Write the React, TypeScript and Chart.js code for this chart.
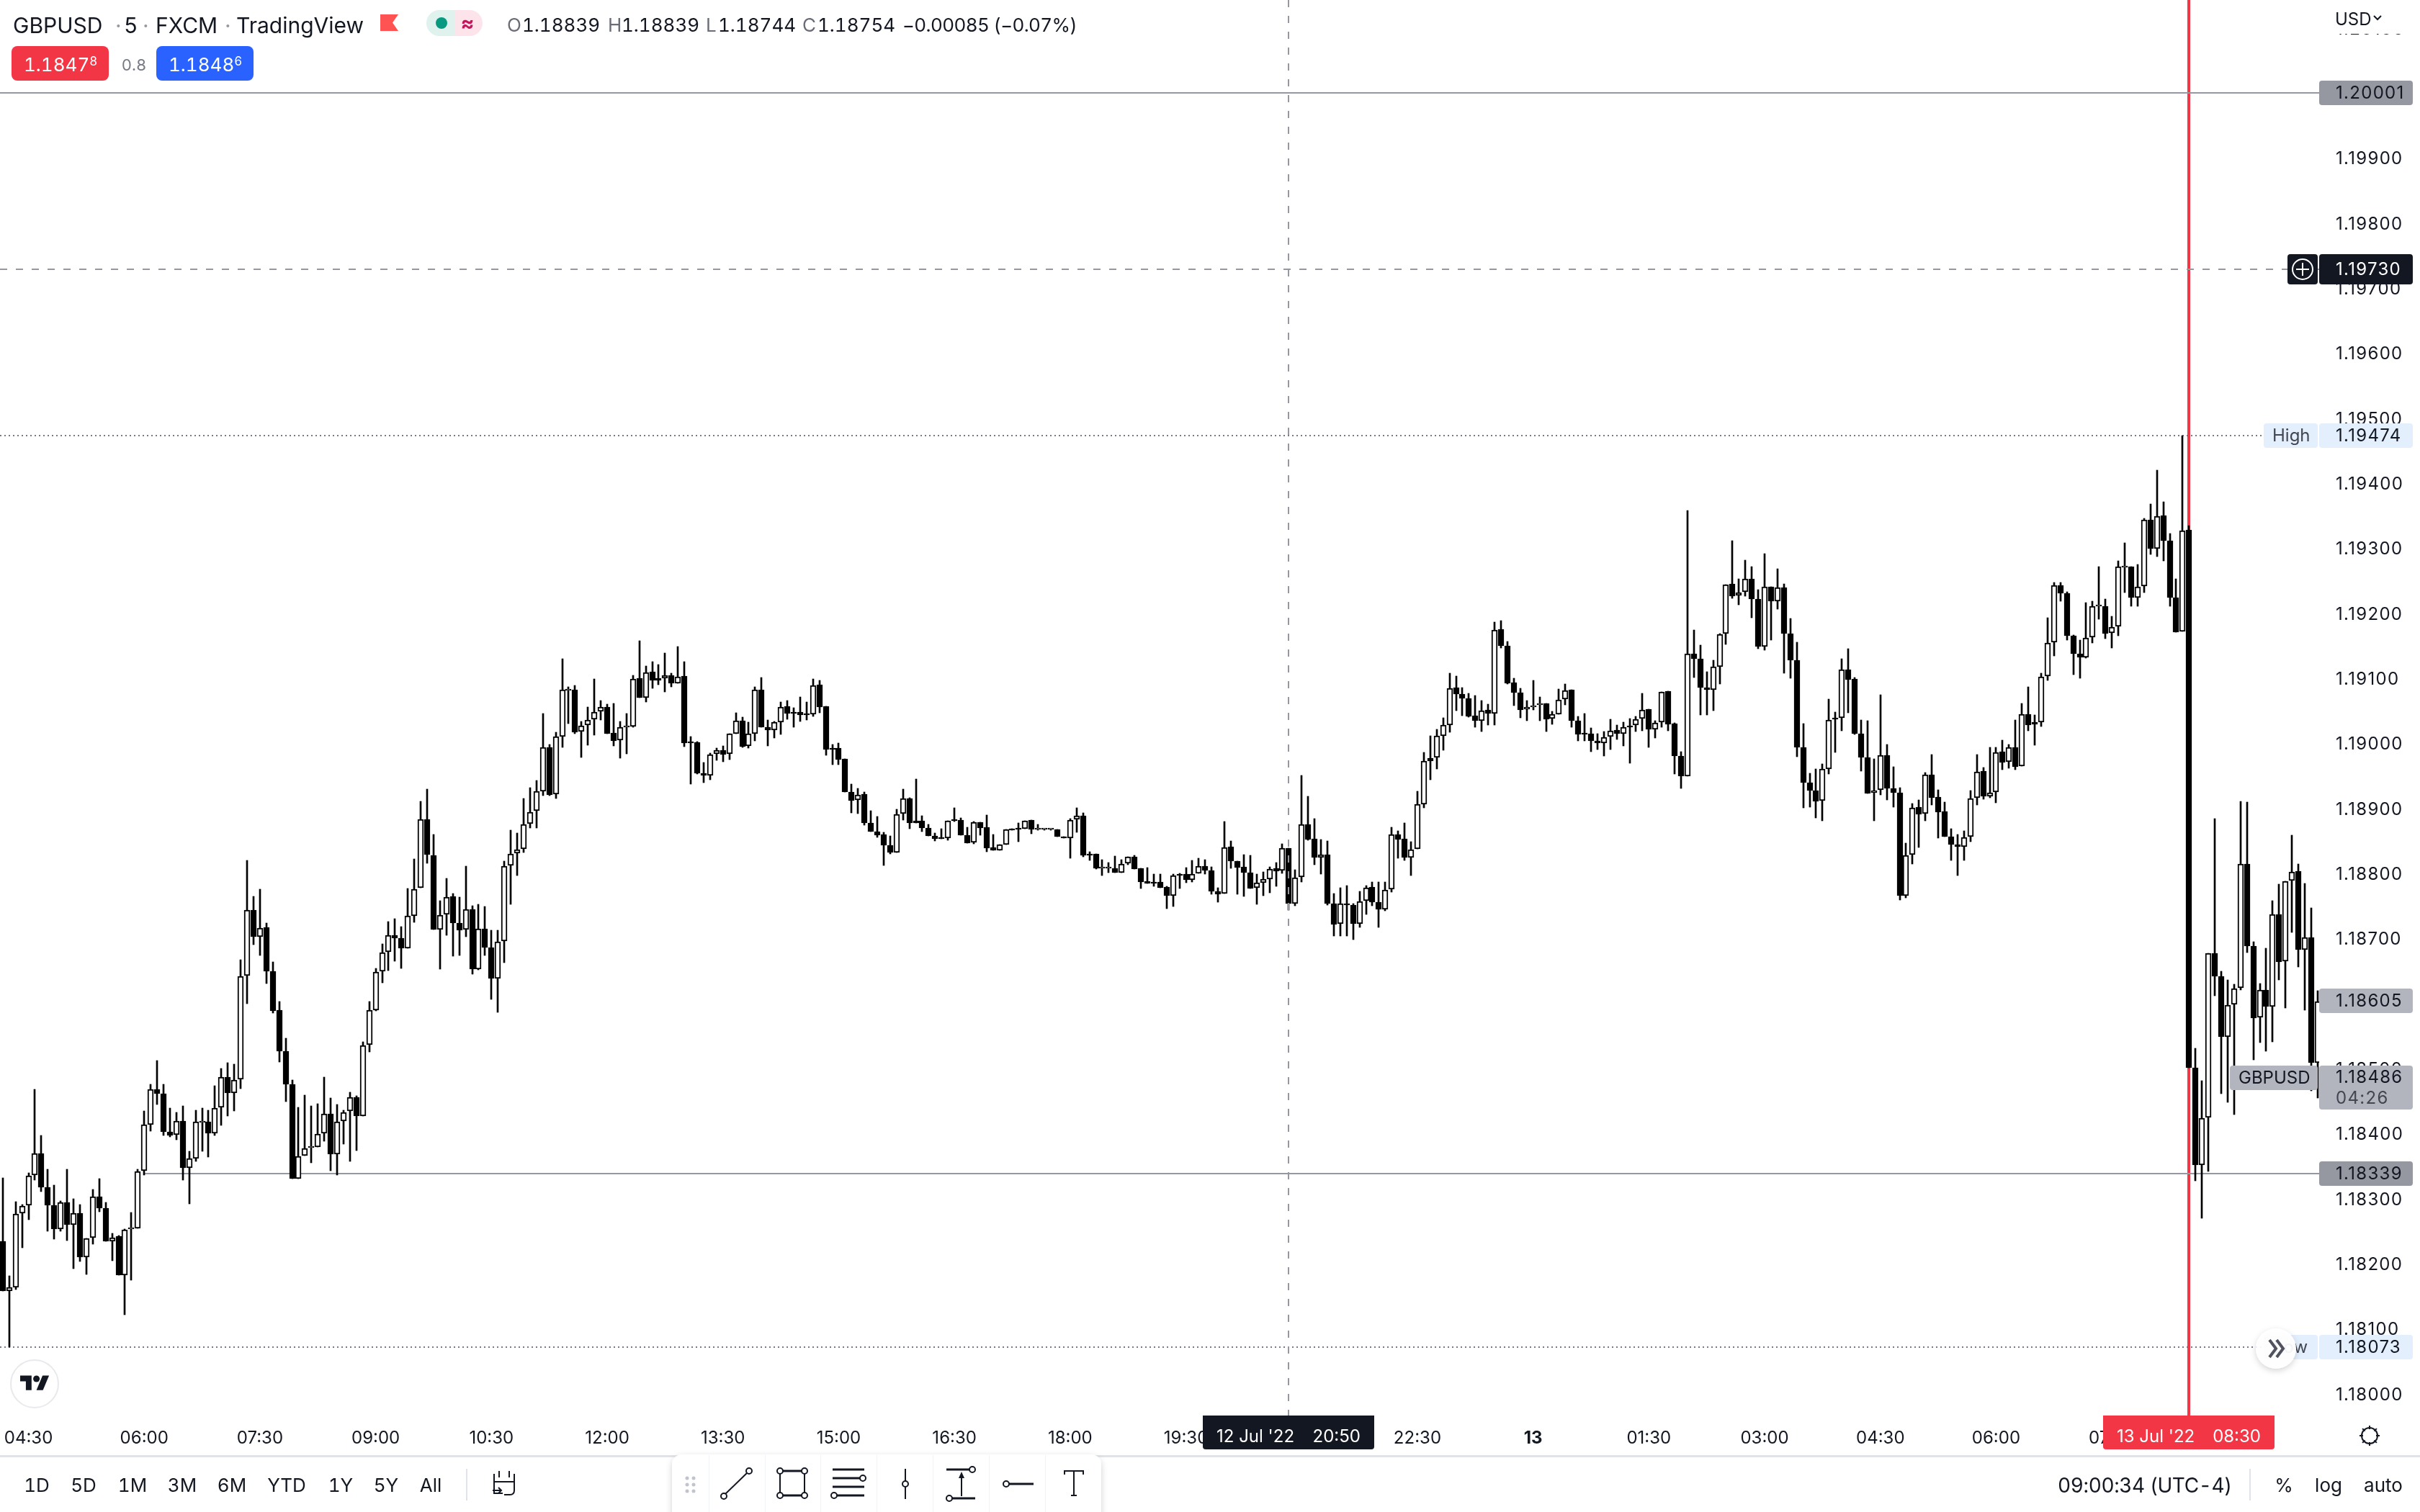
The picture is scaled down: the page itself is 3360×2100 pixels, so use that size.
import React, { useEffect, useRef } from "react";
import { Chart, registerables } from "chart.js";

Chart.register(...registerables);

// Candle values, in units of 0.00001
const highs = [
118333,118182,118296,118292,118340,118469,118398,118346,118322,118297,
118346,118301,118292,118240,118315,118331,118295,118247,118244,118254,
118279,118346,118435,118477,118513,118477,118440,118433,118443,118374,
118437,118440,118437,118474,118501,118510,118507,118668,118821,118765,
118776,118724,118665,118604,118547,118483,118441,118460,118443,118447,
118487,118455,118445,118437,118464,118459,118542,118604,118655,118692,
118727,118731,118719,118778,118823,118912,118930,118861,118759,118793,
118770,118764,118812,118751,118753,118750,118713,118713,118820,118867,
118863,118916,118932,118944,119046,118999,119018,119131,119088,119090,
119034,119057,119100,119066,119061,119062,119034,119047,119105,119158,
119120,119126,119122,119140,119109,119149,119126,119011,119003,118971,
118986,118993,118997,119015,119048,119041,119033,119088,119102,119037,
119034,119064,119067,119055,119072,119064,119100,119097,119058,118999,
119001,118977,118938,118931,118926,118897,118888,118864,118858,118899,
118930,118917,118946,118889,118876,118863,118869,118882,118902,118886,
118872,118880,118879,118890,118861,118845,118868,118869,118878,118882,
118883,118876,118869,118869,118868,118857,118885,118901,118894,118834,
118831,118822,118817,118827,118822,118826,118828,118809,118810,118800,
118800,118781,118800,118801,118810,118821,118824,118822,118811,118779,
118881,118851,118820,118830,118829,118800,118803,118811,118817,118846,
118839,118806,118951,118919,118885,118853,118851,118770,118779,118782,
118754,118773,118782,118788,118788,118787,118872,118866,118878,118849,
118927,118987,119012,119022,119040,119108,119104,119086,119077,119074,
119067,119061,119187,119189,119157,119101,119085,119067,119097,119072,
119062,119050,119084,119092,119083,119042,119046,119024,119016,119019,
119038,119029,119033,119039,119042,119078,119053,119035,119080,119081,
119032,118988,119359,119175,119152,119111,119128,119169,119245,119312,
119254,119282,119272,119237,119292,119241,119269,119246,119193,119156,
119031,118955,118961,118969,119069,119049,119131,119146,119102,119037,
119035,118977,119075,118999,118965,118933,118847,118908,118914,118956,
118984,118929,118910,118869,118861,118866,118928,118984,118963,118995,
118994,119006,118999,119037,119062,119088,119044,119108,119194,119248,
119248,119234,119167,119160,119217,119219,119272,119222,119196,119281,
119309,119272,119276,119347,119369,119421,119372,119323,119253,119474,
119335,118532,118482,118678,118885,118650,118637,118630,118912,118910,
118696,118632,118686,118759,118784,118789,118859,118815,118785,118748,
118620];

const lows = [
118159,118073,118161,118225,118268,118329,118312,118251,118238,118251,
118236,118193,118204,118184,118231,118281,118235,118205,118183,118122,
118175,118255,118337,118405,118445,118398,118396,118391,118329,118293,
118358,118374,118365,118398,118413,118428,118436,118470,118600,118691,
118675,118631,118586,118511,118450,118331,118332,118367,118356,118380,
118389,118344,118337,118385,118358,118375,118428,118526,118589,118633,
118651,118666,118655,118686,118726,118779,118816,118714,118654,118706,
118674,118675,118703,118646,118652,118675,118607,118587,118663,118753,
118797,118833,118870,118870,118920,118920,118916,118995,119031,119016,
118979,118998,119013,119037,119016,118997,118978,118985,119025,119071,
119064,119085,119091,119080,119088,119093,118996,118938,118954,118940,
118945,118975,118972,118976,119016,118995,118993,119005,119026,118997,
119009,119014,119038,119026,119034,119037,119042,119048,118982,118968,
118968,118926,118894,118893,118875,118865,118856,118813,118831,118833,
118883,118869,118878,118865,118858,118851,118854,118852,118880,118859,
118847,118846,118860,118834,118836,118836,118845,118867,118849,118869,
118862,118867,118867,118867,118857,118855,118824,118864,118826,118821,
118807,118797,118802,118802,118802,118814,118808,118778,118785,118781,
118779,118747,118750,118778,118786,118787,118801,118800,118769,118756,
118770,118809,118769,118765,118778,118753,118766,118771,118781,118801,
118744,118751,118788,118852,118814,118800,118752,118704,118705,118705,
118699,118718,118738,118751,118718,118743,118772,118824,118821,118798,
118838,118902,118945,118961,118990,119018,119051,119043,119041,119026,
119019,119029,119029,119147,119092,119059,119040,119036,119052,119036,
119019,119030,119045,119060,119025,119004,119004,118988,118991,118981,
118991,119007,118997,118970,119019,119020,118995,119009,119025,119020,
118954,118931,118950,119102,119044,119044,119051,119092,119153,119224,
119214,119227,119194,119146,119144,119160,119207,119108,119101,118980,
118902,118903,118886,118882,118954,118987,119020,119048,119014,118958,
118924,118882,118921,118914,118903,118760,118763,118815,118841,118882,
118906,118855,118857,118821,118798,118821,118849,118906,118915,118917,
118909,118960,118962,118960,118966,119020,118998,119027,119098,119135,
119219,119159,119106,119101,119132,119155,119192,119162,119147,119166,
119232,119212,119212,119232,119291,119288,119281,119211,119172,119173,
118502,118328,118271,118342,118613,118462,118449,118430,118622,118679,
118514,118541,118527,118542,118637,118594,118710,118657,118590,118466,
118455];

const opens = [
118235,118159,118164,118278,118291,118337,118370,118318,118291,118254,
118295,118261,118278,118211,118241,118304,118286,118235,118243,118183,
118254,118255,118344,118415,118469,118462,118403,118399,118420,118348,
118363,118418,118419,118401,118441,118487,118463,118484,118644,118744,
118703,118718,118650,118590,118527,118476,118332,118367,118379,118380,
118401,118431,118369,118420,118435,118457,118428,118537,118591,118650,
118680,118706,118701,118686,118736,118779,118884,118829,118715,118738,
118765,118724,118714,118745,118654,118716,118687,118639,118697,118813,
118832,118838,118877,118897,118927,118995,118923,119011,119082,119083,
119019,119029,119038,119050,119057,119017,119006,119026,119027,119101,
119071,119111,119101,119101,119105,119093,119104,119002,119002,118955,
118951,118985,118990,118985,119016,119035,118997,119016,119083,119026,
119021,119033,119058,119049,119049,119045,119045,119091,119058,118993,
118993,118977,118926,118914,118923,118878,118865,118861,118844,118833,
118893,118916,118882,118882,118871,118858,118855,118855,118883,118883,
118859,118848,118879,118872,118841,118836,118845,118869,118869,118869,
118883,118868,118868,118868,118868,118857,118855,118884,118889,118830,
118831,118809,118809,118809,118802,118816,118826,118809,118789,118788,
118788,118780,118767,118799,118800,118791,118801,118812,118805,118773,
118770,118842,118820,118811,118802,118779,118786,118792,118809,118805,
118839,118754,118795,118876,118854,118825,118830,118754,118723,118754,
118752,118723,118759,118780,118757,118745,118776,118861,118854,118825,
118838,118907,118978,118979,119012,119029,119086,119076,119070,119043,
119036,119052,119046,119176,119151,119094,119079,119053,119057,119060,
119062,119039,119045,119069,119083,119036,119016,119016,119005,119001,
119011,119021,119015,119028,119029,119039,119053,119022,119033,119081,
119031,118981,118950,119138,119131,119086,119083,119119,119169,119246,
119228,119234,119253,119223,119150,119241,119219,119240,119169,119128,
118994,118940,118928,118913,118961,119040,119040,119114,119100,119015,
118979,118925,118929,118982,118931,118925,118766,118830,118903,118893,
118953,118918,118896,118857,118845,118842,118857,118917,118958,118919,
118926,118988,118972,118995,118966,119045,119033,119033,119104,119156,
119244,119231,119166,119138,119133,119164,119211,119211,119170,119180,
119271,119272,119225,119242,119344,119300,119351,119312,119225,119173,
119329,118502,118353,118426,118678,118642,118550,118599,118625,118815,
118689,118579,118622,118596,118738,118666,118790,118804,118684,118702,
118510];

const closes = [
118159,118164,118277,118289,118336,118370,118318,118291,118254,118295,
118261,118278,118211,118240,118304,118286,118235,118241,118183,118253,
118255,118343,118414,118469,118462,118403,118398,118420,118348,118362,
118419,118419,118401,118440,118487,118463,118483,118642,118744,118703,
118717,118650,118589,118527,118476,118331,118366,118378,118380,118400,
118431,118369,118419,118433,118457,118428,118536,118591,118649,118679,
118706,118701,118686,118735,118777,118884,118830,118714,118737,118764,
118724,118713,118745,118654,118716,118687,118639,118696,118812,118831,
118837,118876,118895,118927,118994,118922,119011,119083,119083,119018,
119028,119037,119049,119056,119016,119005,119026,119027,119100,119071,
119110,119098,119098,119105,119093,119103,119001,119001,118955,118951,
118984,118990,118984,119015,119035,118996,119015,119083,119026,119021,
119033,119057,119046,119046,119044,119044,119090,119057,118991,118991,
118976,118926,118913,118922,118878,118865,118860,118844,118833,118892,
118916,118878,118878,118870,118858,118854,118854,118882,118882,118859,
118847,118879,118871,118840,118836,118845,118868,118867,118868,118882,
118868,118869,118869,118869,118857,118855,118883,118889,118828,118828,
118809,118810,118810,118802,118815,118826,118808,118788,118785,118785,
118779,118766,118798,118798,118791,118800,118812,118805,118773,118769,
118841,118820,118810,118802,118778,118786,118792,118808,118804,118839,
118754,118794,118876,118853,118825,118830,118754,118722,118754,118752,
118723,118758,118779,118756,118745,118775,118861,118853,118825,118837,
118907,118974,118974,119012,119029,119085,119076,119070,119042,119036,
119051,119046,119175,119151,119093,119079,119052,119057,119058,119061,
119038,119045,119068,119082,119036,119014,119014,119004,119001,119010,
119020,119015,119025,119025,119038,119052,119022,119032,119080,119030,
118981,118950,119138,119131,119086,119083,119118,119168,119245,119227,
119233,119253,119223,119149,119241,119219,119240,119169,119128,118995,
118940,118928,118912,118961,119037,119038,119114,119099,119015,118979,
118924,118928,118982,118931,118925,118766,118829,118902,118892,118953,
118917,118895,118857,118845,118842,118856,118916,118957,118919,118925,
118987,118971,118995,118965,119045,119029,119030,119103,119155,119244,
119231,119166,119138,119133,119163,119212,119212,119169,119179,119272,
119272,119225,119241,119344,119300,119350,119312,119225,119172,119328,
118502,118353,118425,118678,118642,118549,118598,118624,118815,118689,
118578,118622,118596,118738,118665,118789,118803,118683,118702,118510,
118604];

// Axis ticks
const timeTickBars = [4,22,40,58,76,94,112,130,148,166,184,202,220,238,256,274,292,310,328];
const timeTickLabels = ["04:30","06:00","07:30","09:00","10:30","12:00","13:30","15:00","16:30","18:00","19:30","21:00","22:30","13","01:30","03:00","04:30","06:00","07:30"];
const priceTicks = [1.18,1.181,1.182,1.183,1.184,1.185,1.186,1.187,1.188,1.189,1.19,1.191,1.192,1.193,1.194,1.195,1.196,1.197,1.198,1.199,1.2,1.201];

// Marks
const alertHigh = 1.20001;
const entryLine = 1.18339;
const entryLineStartBar = 22;
const crosshairPrice = 1.1973;
const crosshairBar = 200;
const highPrice = 1.19474;
const lowPrice = 1.18073;
const replayBar = 340;
const prevClose = 1.18605;
const lastPrice = 1.18486;

const DARK = "#131722";
const GREY = "#9598a1";
const LIGHT_GREY = "#b2b5be";
const RED = "#f23645";
const PALE = "#e3effd";
const FONT = "Inter, Roboto, sans-serif";
const PRICE_SPACING = "1.3px";

const isUp = (i: number) => closes[i] >= opens[i];
const wickData = highs.map((h, i) => ({ x: i, y: [lows[i] / 1e5, h / 1e5] }));
const bodyData = opens.map((o, i) => ({ x: i, y: [Math.min(o, closes[i]) / 1e5, Math.max(o, closes[i]) / 1e5] }));

function tag(ctx: any, x: number, w: number, top: number, h: number, bg: string, text: string, color: string, textX: number, spacing = "0px") {
  ctx.fillStyle = bg;
  ctx.beginPath();
  ctx.roundRect(x, top, w, h, 4);
  ctx.fill();
  ctx.fillStyle = color;
  ctx.font = `24px ${FONT}`;
  ctx.textAlign = "left";
  ctx.textBaseline = "middle";
  ctx.letterSpacing = spacing;
  ctx.fillText(text, textX, top + h / 2 + 1);
  ctx.letterSpacing = "0px";
}

const marksPlugin = {
  id: "marks",
  beforeDraw(chart: any) {
    const s = chart.scales.y;
    if (!s.__spaced) {
      s.__spaced = true;
      const orig = s.drawLabels.bind(s);
      s.drawLabels = (area: any) => {
        const ctx = chart.ctx;
        ctx.save();
        ctx.translate(0, 1);
        ctx.letterSpacing = PRICE_SPACING;
        orig(area);
        ctx.letterSpacing = "0px";
        ctx.restore();
      };
    }
  },
  beforeDatasetsDraw(chart: any) {
    // pixel-snap candles the way the reference does
    chart.data.datasets.forEach((_: any, d: number) => {
      chart.getDatasetMeta(d).data.forEach((el: any) => {
        el.x = Math.round(el.x);
        el.y = Math.round(el.y);
        el.base = Math.round(el.base);
      });
    });
    const { ctx, chartArea: a, scales } = chart;
    const X = scales.x, Y = scales.y;
    ctx.save();
    ctx.strokeStyle = "#787b86";
    ctx.lineWidth = 2;
    ctx.setLineDash([2, 4]);
    [highPrice, lowPrice].forEach((p) => {
      const py = Math.round(Y.getPixelForValue(p));
      ctx.beginPath();
      ctx.moveTo(a.left, py);
      ctx.lineTo(a.right, py);
      ctx.stroke();
    });
    ctx.setLineDash([]);
    ctx.fillStyle = RED;
    ctx.fillRect(Math.round(X.getPixelForValue(replayBar)) - 2, a.top, 4, a.bottom - a.top);
    ctx.fillStyle = GREY;
    ctx.fillRect(a.left, Math.round(Y.getPixelForValue(alertHigh)) - 1, a.right - a.left, 2);
    const sx = X.getPixelForValue(entryLineStartBar);
    ctx.fillRect(sx, Math.round(Y.getPixelForValue(entryLine)) - 1, a.right - sx, 2);
    ctx.restore();
  },
  afterDatasetsDraw(chart: any) {
    const { ctx, chartArea: a, scales } = chart;
    const X = scales.x, Y = scales.y;
    ctx.save();
    ctx.strokeStyle = GREY;
    ctx.lineWidth = 2;
    ctx.setLineDash([10, 12]);
    const cx = Math.round(X.getPixelForValue(crosshairBar));
    const cy = Math.round(Y.getPixelForValue(crosshairPrice));
    ctx.beginPath();
    ctx.moveTo(cx, a.top);
    ctx.lineTo(cx, a.bottom);
    ctx.moveTo(a.left, cy);
    ctx.lineTo(a.right, cy);
    ctx.stroke();
    ctx.restore();
  },
  afterDraw(chart: any) {
    const { ctx, scales } = chart;
    const Y = scales.y, X = scales.x;
    ctx.save();
    const ax = 3220, aw = 130, tx = 3243, sp = PRICE_SPACING;
    const at = (p: number) => Math.round(Y.getPixelForValue(p));
    tag(ctx, ax, aw, at(alertHigh) - 17, 34, GREY, alertHigh.toFixed(5), DARK, tx, sp);
    tag(ctx, ax, aw, at(crosshairPrice) - 21, 42, DARK, crosshairPrice.toFixed(5), "#ffffff", tx, sp);
    tag(ctx, 3176, 42, at(crosshairPrice) - 21, 42, DARK, "", "#fff", 0);
    tag(ctx, ax, aw, at(highPrice) - 17, 34, PALE, highPrice.toFixed(5), DARK, tx, sp);
    tag(ctx, 3143, 75, at(highPrice) - 17, 34, PALE, "High", "#434651", 3155);
    tag(ctx, ax, aw, at(lowPrice) - 17, 34, PALE, lowPrice.toFixed(5), DARK, tx, sp);
    tag(ctx, 3143, 75, at(lowPrice) - 17, 34, PALE, "Low", "#434651", 3157);
    tag(ctx, ax, aw, at(prevClose) - 17, 34, LIGHT_GREY, prevClose.toFixed(5), DARK, tx, sp);
    tag(ctx, ax, aw, at(entryLine) - 17, 34, GREY, entryLine.toFixed(5), DARK, tx, sp);
    // last price tag, with countdown
    const lt = at(lastPrice) - 17;
    tag(ctx, ax, aw, lt, 61, LIGHT_GREY, "", DARK, tx);
    tag(ctx, 3096, 122, lt, 34, LIGHT_GREY, "GBPUSD", DARK, 3108);
    ctx.fillStyle = DARK;
    ctx.font = `24px ${FONT}`;
    ctx.textBaseline = "middle";
    ctx.textAlign = "left";
    ctx.letterSpacing = sp;
    ctx.fillText(lastPrice.toFixed(5), tx, lt + 17);
    ctx.fillStyle = "#434651";
    ctx.fillText("04:26", tx, lt + 46);
    ctx.letterSpacing = "0px";
    // time axis tags
    const timeTag = (bar: number, w: number, bg: string, a1: string, a2: string) => {
      const c = Math.round(X.getPixelForValue(bar));
      const l = c - w / 2;
      ctx.fillStyle = bg;
      ctx.beginPath();
      ctx.roundRect(l, 1966, w, 47, [0, 0, 4, 4]);
      ctx.fill();
      ctx.fillStyle = "#ffffff";
      ctx.textAlign = "left";
      ctx.fillText(a1, l + 19, 1996);
      ctx.textAlign = "right";
      ctx.fillText(a2, l + w - 19, 1996);
    };
    timeTag(crosshairBar, 238, DARK, "12 Jul '22", "20:50");
    timeTag(replayBar, 238, RED, "13 Jul '22", "08:30");
    ctx.restore();
  },
};

function T({ x, y, s = 26, c = DARK, w = 400, a = "left", ls = 0, children }: any) {
  const tr = a === "center" ? "translate(-50%,-50%)" : "translateY(-50%)";
  return (
    <span
      style={{
        position: "absolute", left: x, top: y, transform: tr, fontSize: s, color: c, fontWeight: w,
        fontFamily: FONT, fontVariantNumeric: "tabular-nums", letterSpacing: ls, lineHeight: 1, whiteSpace: "nowrap",
      }}
    >
      {children}
    </span>
  );
}

function Price({ x, main, sup }: any) {
  return (
    <span style={{ position: "absolute", left: x, top: 90, transform: "translateY(-50%)", color: "#fff", fontFamily: FONT, fontVariantNumeric: "tabular-nums", fontSize: 26, lineHeight: 1, whiteSpace: "nowrap" }}>
      {main}
      <span style={{ fontSize: 17, position: "relative", top: -8 }}>{sup}</span>
    </span>
  );
}

const Node = ({ cx, cy }: any) => <circle cx={cx} cy={cy} r={4} fill="#fff" stroke={DARK} strokeWidth={2} />;

function Icons() {
  const st = { stroke: DARK, strokeWidth: 2, fill: "none" };
  const ticks = [0, 45, 90, 135, 180, 225, 270, 315];
  const divs = [984, 1062, 1139, 1217, 1295, 1373, 1451];
  return (
    <svg width={3360} height={2100} style={{ position: "absolute", left: 0, top: 0, pointerEvents: "none" }}>
      {/* replay flag */}
      <path d="M528 20H553L545 31.5L553 43H528Z" fill="#ff5252" />
      {/* crosshair plus */}
      <circle cx={3197} cy={374} r={14} stroke="#fff" strokeWidth={2} fill="none" />
      <path d="M3188 374H3206M3197 365V383" stroke="#fff" strokeWidth={2} />
      {/* usd chevron */}
      <path d="M3296 22L3301 27L3306 22" stroke={DARK} strokeWidth={2} fill="none" />
      {/* logo */}
      <circle cx={48} cy={1922} r={33} fill="#fff" stroke="#e8e9ec" strokeWidth={2} />
      <g transform="translate(28 1906) scale(1.13)">
        <path d="M14 22H7V11H0V4h14v18zM28 22h-8l7.5-18h8L28 22z" fill={DARK} />
        <circle cx="20" cy="8" r="4" fill={DARK} />
      </g>
      {/* scroll button */}
      <defs>
        <filter id="sh" x="-50%" y="-50%" width="200%" height="200%">
          <feDropShadow dx="0" dy="3" stdDeviation="4" floodColor="#000" floodOpacity="0.18" />
        </filter>
      </defs>
      <circle cx={3160} cy={1873} r={28} fill="#fff" fillOpacity={0.93} filter="url(#sh)" />
      <path d="M3151 1861L3160 1873L3151 1885M3161 1861L3170 1873L3161 1885" stroke="#50535e" strokeWidth={4} fill="none" />
      {/* gear */}
      <circle cx={3290} cy={1994} r={11} {...st} />
      {ticks.map((t) => (
        <line key={t} x1={3290} y1={1980} x2={3290} y2={1985} {...st} transform={`rotate(${t} 3290 1994)`} />
      ))}
      {/* toolbar separators */}
      <rect x={0} y={2021} width={3360} height={3} fill="#e0e3eb" />
      <rect x={647} y={2040} width={2} height={44} fill="#e0e3eb" />
      <rect x={3123} y={2040} width={2} height={44} fill="#e0e3eb" />
      {/* calendar */}
      <path d="M686 2047V2074H698M714 2047V2070Q714 2076 708 2076H700M686 2058H714M693 2043V2052M707 2043V2052M684 2070H696M692 2066L696 2070L692 2074" {...st} />
      {/* palette */}
      <rect x={933} y={2020} width={596} height={100} rx={14} fill="#fff" filter="url(#sh)" />
      {divs.map((d) => <rect key={d} x={d} y={2021} width={1} height={79} fill="#f0f3fa" />)}
      {[2053, 2062, 2071].map((cy) => (
        <g key={cy}>
          <circle cx={954} cy={cy} r={2.5} fill="#c1c4cd" />
          <circle cx={963} cy={cy} r={2.5} fill="#c1c4cd" />
        </g>
      ))}
      <line x1={1006} y1={2076} x2={1039} y2={2044} {...st} />
      <Node cx={1005} cy={2078} /><Node cx={1040} cy={2043} />
      <path d="M1083 2043V2077M1117 2043V2077" {...st} />
      <path d="M1083 2043H1117M1083 2077H1117" stroke={DARK} strokeWidth={3} fill="none" />
      <Node cx={1083} cy={2043} /><Node cx={1117} cy={2043} /><Node cx={1083} cy={2077} /><Node cx={1117} cy={2077} />
      <path d="M1156 2041H1200M1156 2053H1200M1156 2065H1200M1156 2077H1200" stroke={DARK} strokeWidth={3} fill="none" />
      <Node cx={1198} cy={2053} /><Node cx={1158} cy={2077} />
      <line x1={1257} y1={2040} x2={1257} y2={2082} {...st} />
      <Node cx={1257} cy={2061} />
      <path d="M1314 2041H1350M1318 2081H1354" stroke={DARK} strokeWidth={3} fill="none" />
      <Node cx={1350} cy={2041} /><Node cx={1318} cy={2081} />
      <line x1={1335} y1={2078} x2={1335} y2={2050} {...st} />
      <path d="M1335 2044L1331 2053H1339Z" fill={DARK} />
      <path d="M1401 2061H1435" stroke={DARK} strokeWidth={3} fill="none" />
      <Node cx={1397} cy={2061} />
      <path d="M1478 2048V2043H1504V2048" {...st} />
      <path d="M1491 2043V2077M1487 2077H1495" {...st} />
    </svg>
  );
}

const noPadding = (s: any) => {
  s.paddingLeft = 0;
  s.paddingRight = 0;
  s.paddingTop = 0;
  s.paddingBottom = 0;
};

export default function App() {
  const ref = useRef<HTMLCanvasElement>(null);
  useEffect(() => {
    const chart = new Chart(ref.current as HTMLCanvasElement, {
      type: "bar",
      data: {
        datasets: [
          {
            label: "Body",
            data: bodyData as any,
            order: 1,
            barThickness: 8,
            minBarLength: 2,
            grouped: false,
            borderSkipped: false,
            borderWidth: 2,
            borderColor: "#000000",
            backgroundColor: opens.map((_, i) => (isUp(i) ? "#ffffff" : "#000000")),
          },
          {
            label: "Wick",
            data: wickData as any,
            order: 2,
            barThickness: 2,
            grouped: false,
            borderSkipped: false,
            borderWidth: 0,
            backgroundColor: "#000000",
          },
        ],
      },
      options: {
        responsive: false,
        animation: false,
        layout: { padding: 0 },
        plugins: { legend: { display: false }, tooltip: { enabled: false } },
        scales: {
          x: {
            type: "linear",
            offset: false,
            bounds: "data",
            min: -0.4256,
            max: 360.24,
            grid: { display: false, drawTicks: false },
            border: { display: false },
            afterFit: (s: any) => { s.height = 134; noPadding(s); },
            afterBuildTicks: (s: any) => { s.ticks = timeTickBars.map((value) => ({ value })); },
            ticks: {
              autoSkip: false,
              maxRotation: 0,
              padding: 17,
              color: DARK,
              font: (c: any) => ({ family: FONT, size: 24, weight: c.tick && c.tick.value === 238 ? "bold" : "normal" }),
              callback: (v: any) => timeTickLabels[timeTickBars.indexOf(v)] ?? "",
            },
          },
          y: {
            type: "linear",
            position: "right",
            bounds: "data",
            min: 1.179673,
            max: 1.201435,
            grid: { display: false, drawTicks: false },
            border: { display: false },
            afterFit: (s: any) => { s.width = 140; noPadding(s); },
            afterBuildTicks: (s: any) => { s.ticks = priceTicks.map((value) => ({ value })); },
            ticks: {
              autoSkip: false,
              crossAlign: "near",
              padding: 23,
              color: DARK,
              font: { family: FONT, size: 24 },
              callback: (v: any) => Number(v).toFixed(5),
            },
          },
        } as any,
      },
      plugins: [marksPlugin],
    } as any);
    return () => chart.destroy();
  }, []);

  return (
    <div style={{ position: "fixed", left: 0, top: 0, width: 3360, height: 2100, background: "#fff", overflow: "hidden" }}>
      <canvas ref={ref} width={3360} height={2100} style={{ position: "absolute", left: 0, top: 0, display: "block" }} />
      {/* cover for the clipped top tick */}
      <div style={{ position: "absolute", left: 3225, top: 0, width: 135, height: 47, background: "#fff" }} />
      <Icons />
      <T x={18} y={35} s={30}>GBPUSD</T>
      <T x={160} y={35} s={30} c="#9598a1">·</T>
      <T x={172} y={35} s={30}>5</T>
      <T x={198} y={35} s={30} c="#9598a1">·</T>
      <T x={216} y={35} s={30}>FXCM</T>
      <T x={312} y={35} s={30} c="#9598a1">·</T>
      <T x={328} y={35} s={30}>TradingView</T>
      <div style={{ position: "absolute", left: 592, top: 14, width: 39, height: 36, background: "#e0f2ed", borderRadius: "18px 0 0 18px" }} />
      <div style={{ position: "absolute", left: 631, top: 14, width: 39, height: 36, background: "#fce4ea", borderRadius: "0 18px 18px 0" }} />
      <div style={{ position: "absolute", left: 605, top: 24, width: 16, height: 16, background: "#089981", borderRadius: 8 }} />
      <T x={649} y={32} s={28} c="#c2185b" w={700} a="center">≈</T>
      <T x={704} y={35} c="#6a6d78">O</T><T x={725} y={35}>1.18839</T>
      <T x={844} y={35} c="#6a6d78">H</T><T x={863} y={35}>1.18839</T>
      <T x={980} y={35} c="#6a6d78">L</T><T x={997} y={35}>1.18744</T>
      <T x={1114} y={35} c="#6a6d78">C</T><T x={1135} y={35}>1.18754</T>
      <T x={1253} y={35} ls={-0.6}>−0.00085 (−0.07%)</T>
      <div style={{ position: "absolute", left: 16, top: 64, width: 135, height: 48, background: RED, borderRadius: 8 }} />
      <Price x={33} main="1.1847" sup="8" />
      <T x={186} y={90} s={22} c="#787b86" a="center">0.8</T>
      <div style={{ position: "absolute", left: 217, top: 64, width: 135, height: 48, background: "#2962ff", borderRadius: 8 }} />
      <Price x={234} main="1.1848" sup="6" />
      <T x={3242} y={27} s={24}>USD</T>
      {[["1D", 51], ["5D", 116], ["1M", 184], ["3M", 253], ["6M", 322], ["YTD", 398], ["1Y", 473], ["5Y", 536], ["All", 598]].map(([t, x]) => (
        <T key={t as string} x={x} y={2063} a="center">{t}</T>
      ))}
      <T x={2857} y={2063} s={28} ls={-0.4}>09:00:34 (UTC-4)</T>
      <T x={3171} y={2063} a="center">%</T>
      <T x={3233} y={2063} a="center">log</T>
      <T x={3309} y={2063} a="center">auto</T>
    </div>
  );
}
